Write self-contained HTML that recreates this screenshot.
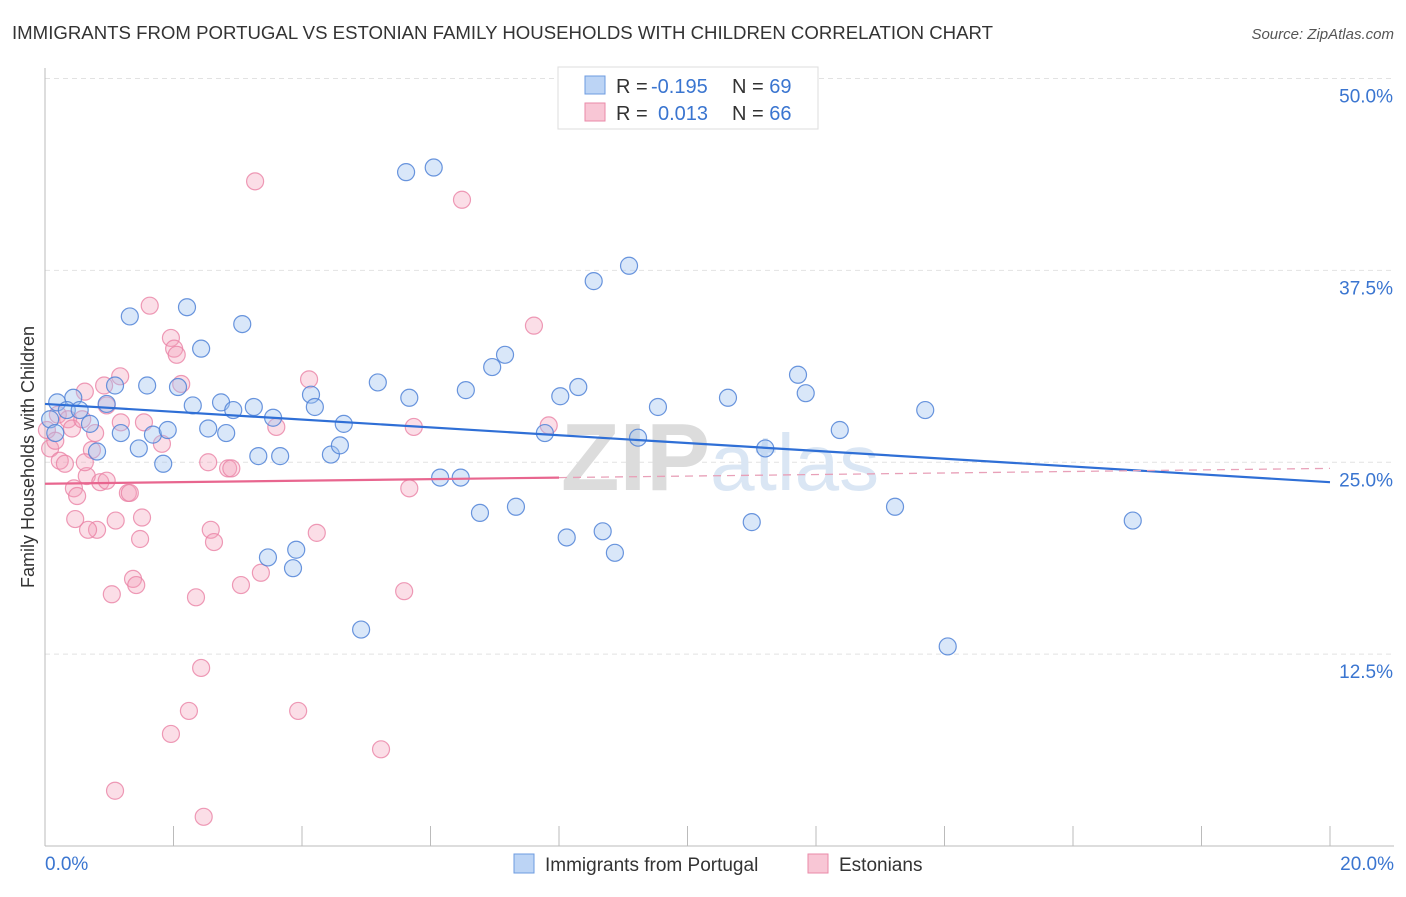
<!DOCTYPE html>
<html><head><meta charset="utf-8"><style>
body{margin:0;background:#fff;font-family:"Liberation Sans",sans-serif;}
svg text{font-family:"Liberation Sans",sans-serif;}
</style></head><body>
<svg id="chart" width="1406" height="892">
<text x="12" y="39" font-size="18" fill="#333" textLength="981" lengthAdjust="spacingAndGlyphs">IMMIGRANTS FROM PORTUGAL VS ESTONIAN FAMILY HOUSEHOLDS WITH CHILDREN CORRELATION CHART</text>
<text x="1394" y="39" font-size="15" fill="#555" text-anchor="end" font-style="italic">Source: ZipAtlas.com</text>
<text transform="translate(34,457) rotate(-90)" font-size="18" fill="#333" text-anchor="middle">Family Households with Children</text>
<g id="grid"></g>
<text x="720" y="490" font-size="96" fill="#e3e3e3" text-anchor="middle" font-family="Liberation Serif"><tspan font-weight="bold" fill="#dcdcdc">ZIP</tspan><tspan font-size="80" fill="#dae6f4">atlas</tspan></text>
<g id="pts"></g>
<g id="lines"></g>
<g>
<rect x="558" y="67" width="260" height="62" fill="#fff" stroke="#ddd"/>
<rect x="585" y="76" width="20" height="18" fill="#bcd4f5" stroke="#6d9be0"/>
<rect x="585" y="103" width="20" height="18" fill="#f8c6d5" stroke="#ea8aa8"/>
<text x="616" y="93" font-size="20" fill="#333">R = <tspan x="651" fill="#3a75d0">-0.195</tspan><tspan x="732">N = </tspan><tspan fill="#3a75d0">69</tspan></text>
<text x="616" y="120" font-size="20" fill="#333">R = <tspan x="658" fill="#3a75d0">0.013</tspan><tspan x="732">N = </tspan><tspan fill="#3a75d0">66</tspan></text>
</g>
<g>
<rect x="514" y="854" width="20" height="19" fill="#bcd4f5" stroke="#6d9be0"/>
<text x="545" y="871" font-size="19" fill="#333">Immigrants from Portugal</text>
<rect x="808" y="854" width="20" height="19" fill="#f8c6d5" stroke="#ea8aa8"/>
<text x="839" y="871" font-size="19" fill="#333">Estonians</text>
</g>
</svg>
<script>
const blueX=[0.19,0.44,0.34,0.54,0.70,0.08,0.16,0.81,0.96,1.09,1.18,1.32,1.46,1.59,1.68,1.84,1.91,2.07,2.21,2.30,2.43,2.54,2.74,2.82,2.93,3.07,3.25,3.32,3.55,3.66,3.47,3.91,3.86,4.14,4.20,4.45,4.59,4.65,4.92,5.18,5.62,5.67,6.05,6.15,6.47,6.55,6.77,6.96,7.16,7.33,7.78,8.02,8.12,8.30,8.54,8.68,8.87,9.09,9.23,9.54,10.63,11.00,11.21,11.72,11.84,12.37,13.23,13.70,14.05,16.93];
const blueY=[28.9,29.2,28.4,28.4,27.5,27.8,26.9,25.7,28.8,30.0,26.9,34.5,25.9,30.0,26.8,24.9,27.1,29.9,35.1,28.7,32.4,27.2,28.9,26.9,28.4,34.0,28.6,25.4,27.9,25.4,18.8,19.3,18.1,29.4,28.6,25.5,26.1,27.5,14.1,30.2,43.9,29.2,44.2,24.0,24.0,29.7,21.7,31.2,32.0,22.1,26.9,29.3,20.1,29.9,36.8,20.5,19.1,37.8,26.6,28.6,29.2,21.1,25.9,30.7,29.5,27.1,22.1,28.4,13.0,21.2];
const pinkX=[0.08,0.03,0.16,0.23,0.31,0.20,0.36,0.42,0.58,0.62,0.45,0.50,0.47,0.65,0.73,0.78,0.81,0.67,0.86,0.92,0.96,0.96,1.10,1.17,1.18,1.29,1.37,1.42,1.04,1.48,1.51,1.54,1.63,1.82,1.96,2.01,2.05,2.12,1.96,2.24,2.35,2.43,2.47,2.54,2.58,2.63,2.85,2.90,3.05,3.27,3.36,3.60,3.94,4.11,4.23,5.23,5.59,5.67,5.74,6.49,7.61,7.84,1.09,1.32,0.62];
const pinkY=[25.9,27.1,26.4,25.1,24.9,28.1,27.8,27.2,27.8,29.6,23.3,22.8,21.3,24.1,25.8,26.9,20.6,20.6,23.7,30.0,28.7,23.8,21.2,30.6,27.6,23.0,17.4,17.0,16.4,20.0,21.4,27.6,35.2,26.2,33.1,32.4,32.0,30.1,7.3,8.8,16.2,11.6,1.9,25.0,20.6,19.8,24.6,24.6,17.0,43.3,17.8,27.3,8.8,30.4,20.4,6.3,16.6,23.3,27.3,42.1,33.9,27.4,3.6,23.0,25.0];
const xTicks=[0,2,4,6,8,10,12,14,16,18,20];
const yTicks=[12.5,25,37.5,50];
const yTickLabels=["12.5%","25.0%","37.5%","50.0%"];
const blueFit=[28.8,23.7];
const pinkFit=[23.6,24.6];
const NS='http://www.w3.org/2000/svg';
const X=v=>45+v*64.25, Y=v=>846-v*15.35;
function mk(t,a,p){const e=document.createElementNS(NS,t);for(const k in a)e.setAttribute(k,a[k]);p.appendChild(e);return e;}
const grid=document.getElementById('grid');
yTicks.forEach((t,i)=>{
 const l=mk('line',{x1:45,x2:1394,y1:Y(t),y2:Y(t),stroke:'#e2e2e2','stroke-dasharray':'5,4'},grid);
 
 
 const tx=mk('text',{x:1393,y:Y(t)+24,'font-size':19,fill:'#3a75d0','text-anchor':'end'},grid);
 tx.textContent=yTickLabels[i];
 
 
});
mk('line',{x1:45,x2:45,y1:68,y2:846,stroke:'#bbb'},grid);
mk('line',{x1:45,x2:1394,y1:846,y2:846,stroke:'#bbb'},grid);
xTicks.forEach(t=>{const l=mk('line',{x1:X(t),x2:X(t),y1:826,y2:846,stroke:'#bbb'},grid);
 
 });
const xl=mk('text',{x:45,y:870,'font-size':19,fill:'#3a75d0'},grid);xl.textContent='0.0%';


const xr=mk('text',{x:1394,y:870,'font-size':19,fill:'#3a75d0','text-anchor':'end'},grid);xr.textContent='20.0%';


const pts=document.getElementById('pts');
pinkX.forEach((x,i)=>{const c=mk('circle',{cx:X(x),cy:Y(pinkY[i]),r:8.5,fill:'rgba(244,160,186,0.35)',stroke:'rgba(234,130,165,0.8)','stroke-width':1.2},pts);
 
 });
blueX.forEach((x,i)=>{const c=mk('circle',{cx:X(x),cy:Y(blueY[i]),r:8.5,fill:'rgba(160,195,240,0.4)',stroke:'rgba(80,130,215,0.85)','stroke-width':1.2},pts);
 
 });
const lines=document.getElementById('lines');
const bl=mk('line',{x1:X(0),y1:Y(blueFit[0]),x2:X(20),y2:Y(blueFit[1]),stroke:'#2f6fd6','stroke-width':2.2},lines);


const pm=pinkFit[0]+(pinkFit[1]-pinkFit[0])*0.4;
const pl=mk('line',{x1:X(0),y1:Y(pinkFit[0]),x2:X(8),y2:Y(pm),stroke:'#e8668f','stroke-width':2.2},lines);


const pd=mk('line',{x1:X(8),y1:Y(pm),x2:X(20),y2:Y(pinkFit[1]),stroke:'#e8a0b8','stroke-width':1.3,'stroke-dasharray':'8,6'},lines);


</script>
</body></html>
